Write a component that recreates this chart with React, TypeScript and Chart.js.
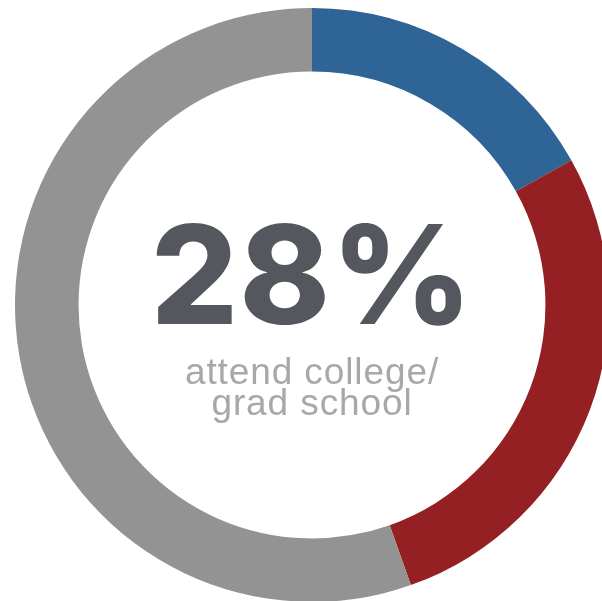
import React, { useEffect, useRef } from "react";
import { Chart, registerables } from "chart.js";

Chart.register(...registerables);

const categories: string[] = ["College / grad school", "Other A", "Other B"];
const shares: number[] = [16.9, 27.7, 55.4];
const sliceColors: string[] = ["#2f6497", "#952023", "#939393"];
const headline = "28%";
const captionLines: string[] = ["attend college/", "grad school"];

export default function App() {
  const canvasRef = useRef<HTMLCanvasElement | null>(null);

  useEffect(() => {
    const ctx = canvasRef.current;
    if (!ctx) return;
    const chart = new Chart(ctx, {
      type: "doughnut",
      data: {
        labels: categories,
        datasets: [
          {
            data: shares,
            backgroundColor: sliceColors,
            borderWidth: 0,
            hoverOffset: 0,
          },
        ],
      },
      options: {
        responsive: false,
        animation: false,
        cutout: "78.6%",
        layout: { padding: 0 },
        plugins: {
          legend: { display: false },
          tooltip: { enabled: false },
        },
        events: [],
      },
    });
    return () => chart.destroy();
  }, []);

  return (
    <div
      style={{
        position: "fixed",
        left: 0,
        top: 0,
        width: 602,
        height: 601,
        overflow: "hidden",
        background: "#ffffff",
      }}
    >
      <canvas
        ref={canvasRef}
        width={594}
        height={594}
        style={{ position: "absolute", left: 15, top: 8, width: 594, height: 594 }}
      />
      <div
        style={{
          position: "absolute",
          left: 0,
          top: 206,
          width: 624,
          textAlign: "center",
          fontFamily: "Inter, 'Liberation Sans', Arial, sans-serif",
          fontWeight: 800,
          fontSize: 137,
          lineHeight: "137px",
          letterSpacing: "1px",
          color: "#54585e",
          whiteSpace: "nowrap",
        }}
      >
        {headline}
      </div>
      <div
        style={{
          position: "absolute",
          left: 0,
          top: 356,
          width: 624,
          textAlign: "center",
          fontFamily: "'Liberation Sans', Arial, sans-serif",
          fontWeight: 400,
          fontSize: 37,
          lineHeight: "31px",
          letterSpacing: "0.9px",
          color: "#a6a9a9",
          whiteSpace: "nowrap",
        }}
      >
        {captionLines.map((l, i) => (
          <div key={i}>{l}</div>
        ))}
      </div>
    </div>
  );
}
